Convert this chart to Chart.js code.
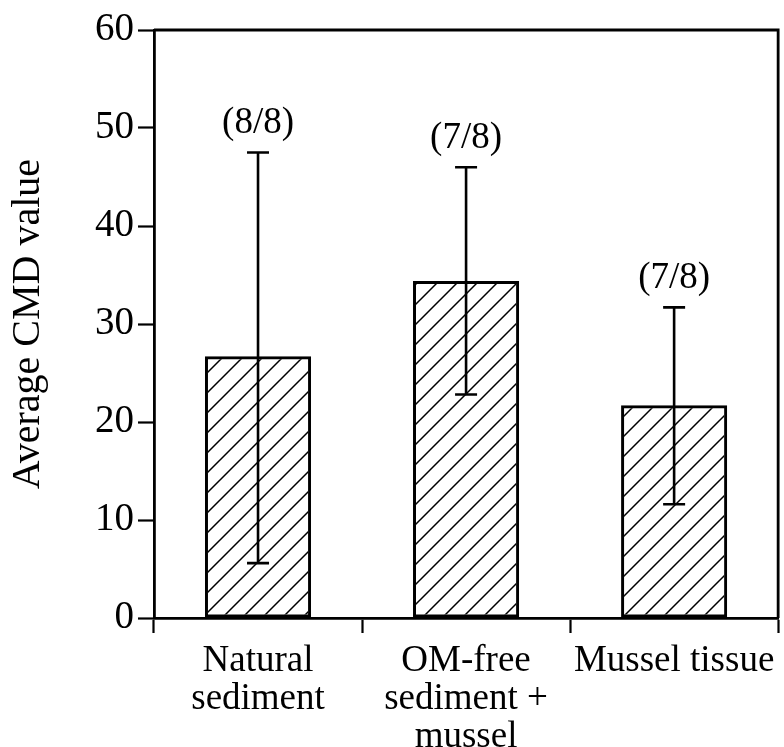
<!DOCTYPE html>
<html>
<head>
<meta charset="utf-8">
<script src="https://cdn.jsdelivr.net/npm/chart.js@4.4.1/dist/chart.umd.min.js"></script>
<style>
  html, body { margin: 0; padding: 0; background: #fff; }
  #wrap { width: 784px; height: 747px; }
</style>
</head>
<body>
<div id="wrap"><canvas id="cmdChart" width="784" height="747"></canvas></div>
<script>
// mean CMD per treatment, with error bar ends
const categories = [['Natural', 'sediment'], ['OM-free', 'sediment +', 'mussel'], ['Mussel tissue']];
const meanValues = [26.7, 34.4, 21.7];
const errHigh = [47.5, 46.0, 31.7];
const errLow = [5.6, 22.8, 11.6];
const countLabels = ['(8/8)', '(7/8)', '(7/8)'];
const yTicks = [0, 10, 20, 30, 40, 50, 60];

const serif = '"Liberation Serif", "Times New Roman", serif';

// diagonal hatch fill
function hatchPattern() {
  const c = document.createElement('canvas');
  c.width = 20; c.height = 20;
  const g = c.getContext('2d');
  g.strokeStyle = '#000';
  g.lineWidth = 1.5;
  g.beginPath();
  g.moveTo(-2, 22); g.lineTo(22, -2);
  g.moveTo(-12, 12); g.lineTo(12, -12);
  g.moveTo(8, 32); g.lineTo(32, 8);
  g.stroke();
  return document.getElementById('cmdChart').getContext('2d').createPattern(c, 'repeat');
}

const errorBars = {
  id: 'errorBars',
  afterDatasetsDraw(chart) {
    const { ctx, scales: { x, y } } = chart;
    ctx.save();
    ctx.strokeStyle = '#000';
    ctx.lineWidth = 2.6;
    ctx.fillStyle = '#000';
    ctx.font = '37px ' + serif;
    ctx.textAlign = 'center';
    ctx.textBaseline = 'middle';
    meanValues.forEach((v, i) => {
      const cx = x.getPixelForValue(i);
      const top = y.getPixelForValue(errHigh[i]);
      const bot = y.getPixelForValue(errLow[i]);
      ctx.beginPath();
      ctx.moveTo(cx, top); ctx.lineTo(cx, bot);
      ctx.moveTo(cx - 11, top); ctx.lineTo(cx + 11, top);
      ctx.moveTo(cx - 11, bot); ctx.lineTo(cx + 11, bot);
      ctx.stroke();
      ctx.fillText(countLabels[i], cx, top - 29);
    });
    // frame on top and right
    const a = chart.chartArea;
    ctx.lineWidth = 2.8;
    ctx.beginPath();
    ctx.moveTo(a.left, a.top); ctx.lineTo(a.right, a.top); ctx.lineTo(a.right, a.bottom);
    ctx.stroke();
    ctx.restore();
  }
};

new Chart(document.getElementById('cmdChart'), {
  type: 'bar',
  data: {
    labels: categories,
    datasets: [{
      data: meanValues,
      backgroundColor: hatchPattern(),
      borderColor: '#000',
      borderWidth: 3,
      borderSkipped: false,
      categoryPercentage: 1,
      barPercentage: 0.51
    }]
  },
  options: {
    responsive: false,
    animation: false,
    layout: { padding: { top: 30, right: 4, left: 0, bottom: 0 } },
    plugins: { legend: { display: false }, tooltip: { enabled: false } },
    scales: {
      x: {
        grid: { display: true, drawOnChartArea: false, offset: true, tickLength: 15, tickColor: '#000', tickWidth: 2.2 },
        border: { display: true, color: '#000', width: 2.8 },
        ticks: { color: '#000', font: { family: serif, size: 37, lineHeight: 1.03 }, padding: 9, maxRotation: 0, autoSkip: false },
        afterFit(s) { s.height = 129; }
      },
      y: {
        min: 0, max: 60,
        afterBuildTicks(s) { s.ticks = yTicks.map(v => ({ value: v })); },
        grid: { display: true, drawOnChartArea: false, tickLength: 16, tickColor: '#000', tickWidth: 2.2 },
        border: { display: true, color: '#000', width: 2.8 },
        ticks: { color: '#000', font: { family: serif, size: 39 }, padding: 4 },
        title: { display: true, text: 'Average CMD value', color: '#000', font: { family: serif, size: 40 }, padding: { top: 4, bottom: 0 } },
        afterFit(s) { s.width = 154; }
      }
    }
  },
  plugins: [errorBars]
});
</script>
</body>
</html>
